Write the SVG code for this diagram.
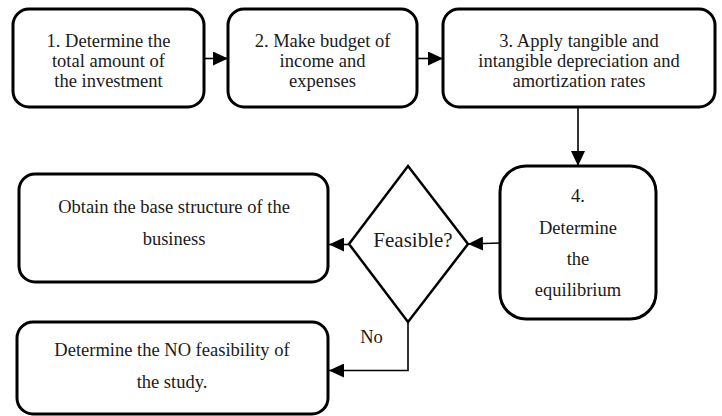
<svg xmlns="http://www.w3.org/2000/svg" width="722" height="416" viewBox="0 0 722 416">
<style>
.box{fill:#fff;stroke:#000;stroke-width:3}
.dia{fill:#fff;stroke:#000;stroke-width:2.5}
.t{font-family:"Liberation Serif","Times New Roman",serif;font-size:18.5px;fill:#1a1a1a;text-anchor:middle}
.big{font-size:21px}
.c{fill:none;stroke:#000;stroke-width:1.6}
</style>
<defs>
<marker id="ah" markerWidth="15" markerHeight="14" refX="15" refY="7" orient="auto" markerUnits="userSpaceOnUse">
<path d="M0,0 L15,7 L0,14 Z" fill="#000"/>
</marker>
</defs>
<g id="n1">
<rect class="box" x="13" y="9" width="191" height="98" rx="16"/>
<text class="t" x="108.5" y="47">1. Determine the</text>
<text class="t" x="108.5" y="67">total amount of</text>
<text class="t" x="108.5" y="87">the investment</text>
</g>
<g id="n2">
<rect class="box" x="228" y="9" width="189" height="98" rx="16"/>
<text class="t" x="322.5" y="47">2. Make budget of</text>
<text class="t" x="322.5" y="67">income and</text>
<text class="t" x="322.5" y="87">expenses</text>
</g>
<g id="n3">
<rect class="box" x="443" y="9" width="272" height="98" rx="16"/>
<text class="t" x="579" y="47">3. Apply tangible and</text>
<text class="t" x="579" y="67">intangible depreciation and</text>
<text class="t" x="579" y="87">amortization rates</text>
</g>
<g id="n4">
<rect class="box" x="500" y="166" width="156" height="153" rx="26"/>
<text class="t" x="578" y="202">4.</text>
<text class="t" x="578" y="234">Determine</text>
<text class="t" x="578" y="265">the</text>
<text class="t" x="578" y="296">equilibrium</text>
</g>
<g id="n5">
<polygon class="dia" points="408,166 468,244 408,322 349,244"/>
<text class="t big" x="413" y="247">Feasible?</text>
</g>
<g id="n6">
<rect class="box" x="19" y="174" width="309" height="108" rx="16"/>
<text class="t" x="174" y="213">Obtain the base structure of the</text>
<text class="t" x="174" y="245">business</text>
</g>
<g id="n7">
<rect class="box" x="17" y="322" width="311" height="92" rx="16"/>
<text class="t" x="172" y="356">Determine the NO feasibility of</text>
<text class="t" x="172" y="388">the study.</text>
</g>
<g id="connectors">
<line class="c" x1="204" y1="58.5" x2="228" y2="58.5" marker-end="url(#ah)"/>
<line class="c" x1="417" y1="58.5" x2="443" y2="58.5" marker-end="url(#ah)"/>
<line class="c" x1="578" y1="107" x2="578" y2="166" marker-end="url(#ah)"/>
<line class="c" x1="500" y1="243" x2="468" y2="244" marker-end="url(#ah)"/>
<line class="c" x1="349" y1="244.5" x2="329" y2="244.5" marker-end="url(#ah)"/>
<polyline class="c" points="408,322 408,370.5 329,370.5" marker-end="url(#ah)"/>
<text class="t" x="371.5" y="343">No</text>
</g>
</svg>
